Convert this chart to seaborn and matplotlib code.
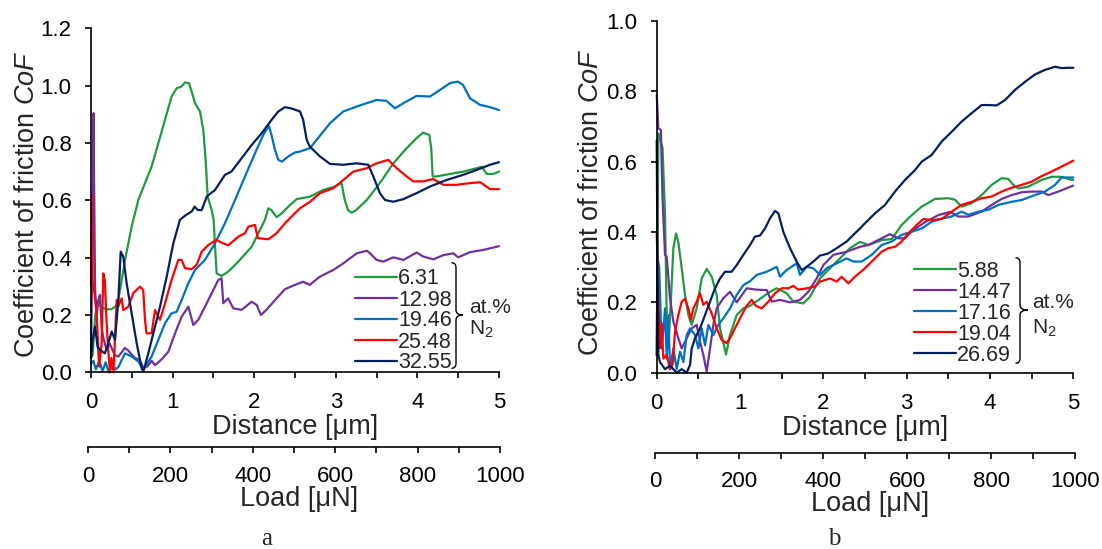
import numpy as np
import pandas as pd
import matplotlib
matplotlib.use("Agg")
import matplotlib.pyplot as plt
import seaborn as sns
from matplotlib.path import Path
from matplotlib.patches import PathPatch

# ---------------- data: panel a ----------------
labels_a = ["6.31", "12.98", "19.46", "25.48", "32.55"]
colors = ["#1F9A3E", "#7030A0", "#0070C0", "#FF0000", "#002060"]

a631_x = [0.0, 0.02, 0.05, 0.08, 0.12, 0.18, 0.25, 0.30, 0.335, 0.417, 0.498, 0.58, 0.662, 0.743, 0.825, 0.907, 0.988, 1.05, 1.11, 1.152, 1.20, 1.234, 1.275, 1.336, 1.376, 1.405, 1.43, 1.479, 1.503, 1.52, 1.54, 1.60, 1.68, 1.805, 1.969, 2.132, 2.173, 2.21, 2.275, 2.34, 2.418, 2.52, 2.684, 2.847, 2.97, 3.07, 3.11, 3.15, 3.195, 3.25, 3.379, 3.54, 3.705, 3.869, 3.99, 4.07, 4.146, 4.17, 4.187, 4.23, 4.40, 4.563, 4.727, 4.79, 4.849, 4.93, 5.0]
a631_y = [0.05, 0.06, 0.19, 0.25, 0.23, 0.22, 0.22, 0.23, 0.252, 0.392, 0.508, 0.601, 0.66, 0.718, 0.799, 0.881, 0.962, 0.991, 0.997, 1.011, 1.009, 0.979, 0.939, 0.91, 0.846, 0.741, 0.613, 0.566, 0.532, 0.438, 0.345, 0.336, 0.351, 0.386, 0.438, 0.532, 0.572, 0.566, 0.541, 0.555, 0.578, 0.604, 0.613, 0.636, 0.646, 0.66, 0.601, 0.566, 0.557, 0.566, 0.601, 0.66, 0.729, 0.782, 0.817, 0.836, 0.828, 0.78, 0.683, 0.683, 0.692, 0.70, 0.712, 0.717, 0.692, 0.692, 0.70]

a1298_x = [0.0, 0.02, 0.03, 0.04, 0.05, 0.07, 0.09, 0.11, 0.13, 0.15, 0.19, 0.23, 0.29, 0.335, 0.376, 0.417, 0.46, 0.498, 0.54, 0.58, 0.62, 0.64, 0.69, 0.743, 0.785, 0.866, 0.948, 1.03, 1.111, 1.193, 1.254, 1.315, 1.397, 1.479, 1.56, 1.60, 1.621, 1.68, 1.744, 1.846, 1.969, 2.03, 2.083, 2.15, 2.255, 2.377, 2.50, 2.60, 2.68, 2.806, 2.97, 3.092, 3.256, 3.38, 3.42, 3.50, 3.58, 3.705, 3.83, 3.99, 4.07, 4.195, 4.32, 4.44, 4.50, 4.645, 4.81, 5.0]
a1298_y = [0.05, 0.5, 0.904, 0.6, 0.287, 0.2, 0.25, 0.27, 0.16, 0.12, 0.08, 0.10, 0.06, 0.055, 0.07, 0.085, 0.075, 0.062, 0.05, 0.045, 0.03, 0.015, 0.02, 0.04, 0.025, 0.045, 0.072, 0.136, 0.194, 0.229, 0.165, 0.183, 0.229, 0.276, 0.322, 0.328, 0.241, 0.258, 0.223, 0.218, 0.246, 0.235, 0.2, 0.218, 0.252, 0.29, 0.305, 0.316, 0.305, 0.334, 0.357, 0.38, 0.415, 0.424, 0.415, 0.392, 0.386, 0.401, 0.392, 0.418, 0.404, 0.394, 0.409, 0.415, 0.401, 0.419, 0.427, 0.44]

a1946_x = [0.0, 0.03, 0.06, 0.1, 0.14, 0.18, 0.22, 0.26, 0.30, 0.34, 0.376, 0.417, 0.498, 0.58, 0.64, 0.743, 0.825, 0.907, 0.988, 1.05, 1.111, 1.193, 1.275, 1.397, 1.52, 1.642, 1.765, 1.887, 2.01, 2.111, 2.18, 2.21, 2.255, 2.296, 2.34, 2.418, 2.50, 2.56, 2.684, 2.766, 2.929, 3.092, 3.256, 3.38, 3.50, 3.62, 3.725, 3.83, 3.99, 4.154, 4.277, 4.40, 4.50, 4.56, 4.645, 4.767, 4.89, 5.0]
a1946_y = [0.03, 0.04, 0.01, 0.04, 0.005, 0.035, 0.0, 0.03, 0.01, 0.02, 0.043, 0.066, 0.055, 0.038, 0.009, 0.055, 0.113, 0.171, 0.206, 0.211, 0.252, 0.311, 0.357, 0.392, 0.45, 0.52, 0.601, 0.683, 0.764, 0.828, 0.86, 0.83, 0.776, 0.741, 0.735, 0.753, 0.767, 0.77, 0.782, 0.811, 0.869, 0.91, 0.927, 0.939, 0.95, 0.947, 0.921, 0.939, 0.964, 0.962, 0.985, 1.009, 1.014, 1.002, 0.956, 0.933, 0.925, 0.915]

a2548_x = [0.0, 0.01, 0.02, 0.04, 0.07, 0.09, 0.1, 0.13, 0.151, 0.17, 0.19, 0.215, 0.235, 0.25, 0.276, 0.315, 0.335, 0.376, 0.396, 0.457, 0.518, 0.60, 0.64, 0.662, 0.68, 0.743, 0.784, 0.846, 0.907, 0.988, 1.07, 1.11, 1.152, 1.234, 1.295, 1.357, 1.438, 1.54, 1.60, 1.683, 1.805, 1.887, 1.928, 2.01, 2.043, 2.173, 2.275, 2.377, 2.50, 2.561, 2.684, 2.806, 2.97, 3.092, 3.214, 3.379, 3.50, 3.643, 3.746, 3.869, 3.95, 4.07, 4.195, 4.318, 4.48, 4.645, 4.77, 4.89, 5.0]
a2548_y = [0.3, 0.62, 0.32, 0.28, 0.206, 0.07, 0.02, 0.1, 0.345, 0.32, 0.18, 0.06, 0.0, 0.05, 0.0, 0.252, 0.23, 0.258, 0.217, 0.229, 0.276, 0.299, 0.287, 0.183, 0.136, 0.136, 0.217, 0.183, 0.241, 0.322, 0.392, 0.392, 0.363, 0.36, 0.375, 0.421, 0.444, 0.462, 0.452, 0.443, 0.473, 0.485, 0.508, 0.514, 0.468, 0.464, 0.485, 0.52, 0.555, 0.572, 0.595, 0.625, 0.642, 0.671, 0.70, 0.712, 0.729, 0.741, 0.712, 0.683, 0.666, 0.666, 0.674, 0.654, 0.654, 0.66, 0.663, 0.639, 0.639]

a3255_x = [0.0, 0.02, 0.05, 0.08, 0.11, 0.17, 0.21, 0.254, 0.294, 0.335, 0.364, 0.396, 0.437, 0.498, 0.56, 0.621, 0.641, 0.702, 0.764, 0.846, 0.928, 1.009, 1.09, 1.17, 1.234, 1.27, 1.31, 1.357, 1.418, 1.52, 1.642, 1.72, 1.847, 1.969, 2.092, 2.214, 2.296, 2.377, 2.46, 2.561, 2.60, 2.643, 2.68, 2.806, 2.929, 3.09, 3.256, 3.398, 3.46, 3.54, 3.603, 3.705, 3.827, 3.99, 4.154, 4.359, 4.563, 4.727, 4.89, 5.0]
a3255_y = [0.05, 0.113, 0.16, 0.09, 0.078, 0.066, 0.10, 0.142, 0.113, 0.252, 0.421, 0.403, 0.31, 0.206, 0.101, 0.014, 0.002, 0.066, 0.136, 0.229, 0.334, 0.45, 0.532, 0.55, 0.561, 0.578, 0.566, 0.566, 0.613, 0.636, 0.689, 0.70, 0.747, 0.793, 0.834, 0.881, 0.91, 0.925, 0.92, 0.91, 0.881, 0.811, 0.788, 0.753, 0.727, 0.724, 0.729, 0.724, 0.683, 0.625, 0.601, 0.595, 0.604, 0.625, 0.648, 0.671, 0.689, 0.706, 0.724, 0.733]

# ---------------- data: panel b ----------------
labels_b = ["5.88", "14.47", "17.16", "19.04", "26.69"]

b588_x = [0.0, 0.02, 0.07, 0.1, 0.12, 0.14, 0.168, 0.2, 0.232, 0.26, 0.3, 0.34, 0.38, 0.42, 0.48, 0.54, 0.60, 0.66, 0.72, 0.76, 0.832, 0.88, 0.96, 1.04, 1.12, 1.24, 1.36, 1.44, 1.56, 1.64, 1.76, 1.84, 1.96, 2.08, 2.2, 2.32, 2.44, 2.54, 2.70, 2.82, 2.94, 3.06, 3.18, 3.34, 3.50, 3.58, 3.66, 3.78, 3.90, 4.02, 4.14, 4.22, 4.28, 4.34, 4.46, 4.62, 4.74, 4.86, 4.98, 5.0]
b588_y = [0.05, 0.68, 0.64, 0.448, 0.164, 0.07, 0.193, 0.354, 0.396, 0.37, 0.297, 0.221, 0.164, 0.136, 0.183, 0.268, 0.295, 0.273, 0.221, 0.126, 0.052, 0.107, 0.164, 0.183, 0.19, 0.21, 0.23, 0.24, 0.226, 0.202, 0.197, 0.216, 0.268, 0.297, 0.325, 0.354, 0.372, 0.363, 0.377, 0.38, 0.42, 0.448, 0.472, 0.494, 0.496, 0.492, 0.472, 0.482, 0.505, 0.534, 0.553, 0.551, 0.534, 0.524, 0.529, 0.548, 0.557, 0.557, 0.548, 0.548]

b1447_x = [0.0, 0.02, 0.05, 0.07, 0.1, 0.12, 0.16, 0.2, 0.26, 0.3, 0.36, 0.42, 0.48, 0.52, 0.56, 0.60, 0.64, 0.68, 0.72, 0.80, 0.88, 0.96, 1.02, 1.08, 1.20, 1.32, 1.38, 1.48, 1.60, 1.72, 1.82, 1.92, 2.0, 2.12, 2.28, 2.44, 2.54, 2.70, 2.80, 2.90, 2.98, 3.08, 3.22, 3.38, 3.52, 3.62, 3.74, 3.90, 4.02, 4.14, 4.26, 4.38, 4.50, 4.62, 4.70, 4.82, 5.0]
b1447_y = [0.79, 0.695, 0.69, 0.496, 0.335, 0.33, 0.212, 0.145, 0.098, 0.069, 0.098, 0.126, 0.136, 0.088, 0.05, 0.003, 0.069, 0.136, 0.183, 0.212, 0.23, 0.2, 0.22, 0.24, 0.236, 0.235, 0.202, 0.207, 0.2, 0.207, 0.23, 0.268, 0.306, 0.335, 0.344, 0.358, 0.363, 0.382, 0.394, 0.382, 0.382, 0.406, 0.428, 0.448, 0.457, 0.444, 0.444, 0.458, 0.477, 0.494, 0.505, 0.513, 0.515, 0.515, 0.505, 0.515, 0.532]

b1716_x = [0.0, 0.01, 0.03, 0.06, 0.08, 0.1, 0.12, 0.14, 0.16, 0.2, 0.24, 0.28, 0.32, 0.36, 0.4, 0.46, 0.5, 0.54, 0.58, 0.62, 0.68, 0.74, 0.8, 0.88, 0.96, 1.04, 1.12, 1.2, 1.32, 1.44, 1.48, 1.56, 1.68, 1.72, 1.80, 1.88, 1.96, 2.04, 2.16, 2.28, 2.36, 2.46, 2.58, 2.70, 2.82, 2.94, 3.06, 3.18, 3.30, 3.42, 3.54, 3.66, 3.74, 3.86, 3.98, 4.10, 4.26, 4.38, 4.54, 4.66, 4.78, 4.86, 5.0]
b1716_y = [0.05, 0.325, 0.3, 0.069, 0.12, 0.183, 0.04, 0.164, 0.01, 0.069, 0.01, 0.06, 0.03, 0.107, 0.126, 0.107, 0.069, 0.126, 0.078, 0.136, 0.107, 0.136, 0.155, 0.183, 0.221, 0.249, 0.26, 0.278, 0.287, 0.301, 0.273, 0.292, 0.311, 0.278, 0.301, 0.297, 0.278, 0.297, 0.311, 0.325, 0.316, 0.316, 0.335, 0.363, 0.373, 0.392, 0.401, 0.41, 0.429, 0.438, 0.444, 0.458, 0.449, 0.458, 0.463, 0.477, 0.486, 0.491, 0.505, 0.515, 0.534, 0.555, 0.555]

b1904_x = [0.0, 0.02, 0.04, 0.06, 0.08, 0.12, 0.16, 0.19, 0.22, 0.26, 0.3, 0.34, 0.38, 0.41, 0.44, 0.48, 0.52, 0.56, 0.60, 0.66, 0.72, 0.78, 0.84, 0.90, 0.96, 1.02, 1.08, 1.14, 1.19, 1.26, 1.34, 1.42, 1.5, 1.58, 1.64, 1.70, 1.80, 1.90, 1.96, 2.08, 2.16, 2.22, 2.30, 2.38, 2.50, 2.62, 2.70, 2.78, 2.86, 2.94, 3.02, 3.12, 3.20, 3.30, 3.42, 3.54, 3.66, 3.78, 3.90, 4.02, 4.14, 4.26, 4.38, 4.50, 4.62, 4.74, 4.86, 5.0]
b1904_y = [0.40, 0.21, 0.07, 0.14, 0.04, 0.05, 0.01, 0.022, 0.117, 0.164, 0.202, 0.21, 0.183, 0.15, 0.183, 0.202, 0.226, 0.193, 0.202, 0.169, 0.126, 0.093, 0.084, 0.107, 0.136, 0.164, 0.19, 0.207, 0.19, 0.183, 0.202, 0.226, 0.24, 0.24, 0.247, 0.236, 0.24, 0.245, 0.259, 0.268, 0.259, 0.273, 0.254, 0.273, 0.297, 0.325, 0.344, 0.354, 0.358, 0.373, 0.396, 0.42, 0.437, 0.434, 0.437, 0.458, 0.477, 0.486, 0.496, 0.501, 0.515, 0.526, 0.534, 0.543, 0.559, 0.572, 0.586, 0.603]

b2669_x = [0.0, 0.01, 0.02, 0.04, 0.1, 0.16, 0.24, 0.30, 0.36, 0.4, 0.42, 0.46, 0.52, 0.58, 0.64, 0.70, 0.76, 0.82, 0.90, 0.96, 1.04, 1.12, 1.18, 1.24, 1.30, 1.36, 1.42, 1.46, 1.52, 1.60, 1.68, 1.74, 1.80, 1.88, 1.96, 2.06, 2.16, 2.28, 2.36, 2.44, 2.50, 2.62, 2.74, 2.86, 2.98, 3.10, 3.18, 3.30, 3.42, 3.54, 3.66, 3.78, 3.90, 3.98, 4.08, 4.18, 4.30, 4.42, 4.54, 4.66, 4.78, 4.86, 4.94, 5.0]
b2669_y = [0.66, 0.3, 0.05, 0.03, 0.01, 0.02, 0.0, 0.01, 0.0, 0.022, 0.069, 0.098, 0.126, 0.164, 0.202, 0.24, 0.268, 0.287, 0.287, 0.306, 0.335, 0.363, 0.387, 0.39, 0.41, 0.439, 0.46, 0.453, 0.40, 0.354, 0.316, 0.292, 0.301, 0.316, 0.333, 0.339, 0.354, 0.373, 0.392, 0.41, 0.425, 0.453, 0.477, 0.515, 0.548, 0.576, 0.60, 0.619, 0.657, 0.685, 0.714, 0.738, 0.761, 0.761, 0.76, 0.775, 0.804, 0.827, 0.848, 0.861, 0.87, 0.866, 0.867, 0.867]

dist_ticks = [0, 1, 2, 3, 4, 5]
load_ticks = [0, 200, 400, 600, 800, 1000]

series_a = [(a631_x, a631_y), (a1298_x, a1298_y), (a1946_x, a1946_y), (a2548_x, a2548_y), (a3255_x, a3255_y)]
series_b = [(b588_x, b588_y), (b1447_x, b1447_y), (b1716_x, b1716_y), (b1904_x, b1904_y), (b2669_x, b2669_y)]


def make_df(series, labels):
    parts = []
    for (xs, ys), lab in zip(series, labels):
        parts.append(pd.DataFrame({"d": xs, "cof": ys, "N": lab}))
    return pd.concat(parts, ignore_index=True)


sns.set_style("ticks")
plt.rcParams["font.family"] = ["Liberation Sans", "DejaVu Sans"]
plt.rcParams["mathtext.fontset"] = "custom"
plt.rcParams["mathtext.rm"] = "Liberation Sans"
plt.rcParams["mathtext.it"] = "Liberation Sans:italic"

W, H = 1102, 549
fig = plt.figure(figsize=(W / 100, H / 100), dpi=100)


def fx(px):
    return px / W


def fy(py):
    return 1 - py / H


LW = 1.6
TICK_FS = 16
LEG_FS = 15.5
LAB_FS = 19.5

panels = [
    dict(series=series_a, labels=labels_a, box=(91, 499, 28.3, 372.3), ymax=1.2,
         sec=(88, 500, 447), load=(299, 499), letter=("a", 267, 545),
         legend=(355, 268.5), brace=(451.5, 456, 463, 262.7, 315, 368.3),
         atpct=(469, 313), n2=(469, 335), xpad=10.5, secpad=9.5, ylab=(-0.125, 0.489)),
    dict(series=series_b, labels=labels_b, box=(656.7, 1073.3, 21, 372.7), ymax=1.0,
         sec=(655.3, 1075.1, 453), load=(870, 504), letter=("b", 834, 545),
         legend=(914.3, 261), brace=(1015.5, 1020, 1028, 257.7, 310, 363.3),
         atpct=(1032.5, 308.5), n2=(1032.5, 333.5), xpad=10.5, secpad=9, ylab=(-0.126, 0.485)),
]

for p in panels:
    x0, x1, ytop, ybot = p["box"]
    ax = fig.add_axes([fx(x0), fy(ybot), (x1 - x0) / W, (ybot - ytop) / H])
    df = make_df(p["series"], p["labels"])
    sns.lineplot(data=df, x="d", y="cof", hue="N", hue_order=p["labels"],
                 palette=colors, sort=False, estimator=None, lw=LW, ax=ax,
                 legend=True, clip_on=False)
    ax.set_xlim(0, 5)
    ax.set_ylim(0, p["ymax"])
    xt = np.arange(0, 5.01, 0.5)
    ax.set_xticks(xt)
    ax.set_xticklabels([str(int(v)) if v in dist_ticks else "" for v in xt])
    yt = np.round(np.arange(0, p["ymax"] + 0.001, 0.2), 1)
    ax.set_yticks(yt)
    ax.set_yticklabels([f"{v:.1f}" for v in yt])
    for s in ["top", "right"]:
        ax.spines[s].set_visible(False)
    for s in ["left", "bottom"]:
        ax.spines[s].set_linewidth(1.2)
        ax.spines[s].set_color("black")
    ax.tick_params(axis="both", direction="out", length=4, width=1.2,
                   labelsize=TICK_FS, colors="black")
    ax.tick_params(axis="x", pad=p["xpad"])
    ax.tick_params(axis="y", pad=10)
    ax.set_xlabel("Distance [μm]", fontsize=LAB_FS)
    ax.xaxis.set_label_coords(0.5, -42.0 / (ybot - ytop))
    ax.set_ylabel("Coefficient of friction $\\mathit{CoF}$", fontsize=LAB_FS)
    ax.yaxis.set_label_coords(*p["ylab"])

    handles, labs = ax.get_legend_handles_labels()
    leg = ax.legend(handles, labs, loc="upper left",
                    bbox_to_anchor=(fx(p["legend"][0]), fy(p["legend"][1])),
                    bbox_transform=fig.transFigure, frameon=False,
                    fontsize=LEG_FS, handlelength=1.95, handletextpad=0.05,
                    labelspacing=0.0, borderpad=0, borderaxespad=0)
    for h in leg.legend_handles:
        h.set_linewidth(LW)

    # secondary load axis
    sx0, sx1, sy = p["sec"]
    sec = fig.add_axes([fx(sx0), fy(sy), (sx1 - sx0) / W, 0.0001])
    sec.patch.set_visible(False)
    for s in ["top", "right", "left"]:
        sec.spines[s].set_visible(False)
    sec.spines["bottom"].set_linewidth(1.2)
    sec.spines["bottom"].set_color("black")
    sec.set_xlim(0, 1000)
    st = np.arange(0, 1001, 100)
    sec.set_xticks(st)
    sec.set_xticklabels([str(v) if v in load_ticks else "" for v in st])
    sec.set_yticks([])
    sec.tick_params(axis="x", direction="out", length=4, width=1.2,
                    labelsize=TICK_FS, colors="black", pad=p["secpad"])
    fig.text(fx(p["load"][0]), fy(p["load"][1]), "Load [μN]", ha="center",
             va="center", fontsize=LAB_FS)
    fig.text(fx(p["letter"][1]), fy(p["letter"][2]), p["letter"][0], ha="center",
             va="baseline", fontsize=18, family=["Liberation Serif", "DejaVu Serif"])

    # brace
    xh, xs, xtip, yb0, ym, yb1 = p["brace"]
    pts = [(xh, yb0), (xs, yb0), (xs, yb0 + 5), (xs, ym - 5), (xs, ym), (xtip, ym),
           (xs, ym), (xs, ym + 5), (xs, yb1 - 5), (xs, yb1), (xh, yb1)]
    codes = [Path.MOVETO, Path.CURVE3, Path.CURVE3, Path.LINETO, Path.CURVE3, Path.CURVE3,
             Path.CURVE3, Path.CURVE3, Path.LINETO, Path.CURVE3, Path.CURVE3]
    verts = [(fx(a), fy(b)) for a, b in pts]
    fig.add_artist(PathPatch(Path(verts, codes), fill=False, lw=1.0, ec="black",
                             transform=fig.transFigure))
    fig.text(fx(p["atpct"][0]), fy(p["atpct"][1]), "at.%", ha="left", va="baseline",
             fontsize=15)
    fig.text(fx(p["n2"][0]), fy(p["n2"][1]), "N$_2$", ha="left", va="baseline",
             fontsize=15)

fig.savefig("out.png", dpi=100)
